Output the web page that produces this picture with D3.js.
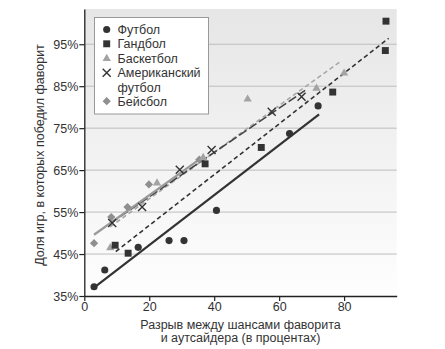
<!DOCTYPE html>
<html><head><meta charset="utf-8">
<script src="https://cdn.jsdelivr.net/npm/d3@7"></script>
<style>body{margin:0;background:#fff;}text{font-family:"Liberation Sans",Arial,sans-serif;}</style>
</head><body><svg id="c" width="445" height="349"></svg>
<script>
// Data
const yTicks = [35,45,55,65,75,85,95];
const xTicks = [0,20,40,60,80];
const footballX = [3.0,6.3,16.6,26.1,30.7,40.7,63.2,72.0];
const footballY = [37.2,41.2,46.6,48.2,48.2,55.4,73.7,80.3];
const handballX = [9.5,13.5,37.2,54.5,76.5,92.7,92.9];
const handballY = [47.1,45.2,66.5,70.4,83.6,93.5,100.5];
const basketballX = [8.0,22.4,36.6,50.3,71.5,80.0];
const basketballY = [46.5,61.9,68.0,81.9,84.5,88.1];
const amfootballX = [8.6,17.8,29.4,39.2,57.7,66.9];
const amfootballY = [52.4,56.2,65.1,69.8,78.9,82.5];
const baseballX = [3.0,8.3,13.3,19.9,35.4];
const baseballY = [47.6,53.8,56.2,61.6,67.5];
// trend line endpoints [x0,y0,x1,y1]
const footballTrend = [3.0,37.0,72.3,78.3];
const handballTrend = [9.7,45.6,93.7,96.4];
const basketballTrend = [8.0,51.5,78.9,90.9];
const amfootballTrend = [8.0,52.3,68.0,84.0];
const baseballTrend = [3.0,49.6,36.1,67.9];
const legendLabels = ["Футбол","Гандбол","Баскетбол","Американский","футбол","Бейсбол"];

const svg = d3.select("#c");
const x = d3.scaleLinear().domain([0,96.2]).range([84.3,396.7]);
const y = d3.scaleLinear().domain([35,103.4]).range([296,9]);

const defs = svg.append("defs");
const g = defs.append("linearGradient").attr("id","bg").attr("x1",0).attr("y1",0).attr("x2",0).attr("y2",1);
g.append("stop").attr("offset","0%").attr("stop-color","#e6e6e6");
g.append("stop").attr("offset","100%").attr("stop-color","#fefefe");
svg.append("rect").attr("x",x(0)).attr("y",y(103.4)).attr("width",x(96.2)-x(0)).attr("height",y(35)-y(103.4)).attr("fill","url(#bg)");

// gridlines
svg.append("g").selectAll("line").data(yTicks.slice(1)).join("line")
  .attr("x1",x(0)).attr("x2",x(96.2)).attr("y1",d=>y(d)).attr("y2",d=>y(d))
  .attr("stroke","#bdbdbd").attr("stroke-width",1);

// axes
const xa = svg.append("g").attr("transform",`translate(0,${y(35)})`)
  .call(d3.axisBottom(x).tickValues(xTicks).tickSize(5).tickSizeOuter(0));
const ya = svg.append("g").attr("transform",`translate(${x(0)},0)`)
  .call(d3.axisLeft(y).tickValues(yTicks).tickFormat(d=>d+"%").tickSize(5).tickSizeOuter(0));
[xa,ya].forEach(a=>{
  a.select(".domain").attr("stroke","#222").attr("stroke-width",1.3);
  a.selectAll(".tick line").attr("stroke","#222").attr("stroke-width",1.2);
  a.selectAll("text").attr("fill","#333").attr("font-size",12.5).attr("font-family","Liberation Sans, Arial, sans-serif");
});
xa.selectAll("text").attr("dy","0.75em").attr("y",6);
ya.selectAll("text").attr("x",-6);

// trend lines
function trend(t,color,w,dash){
  svg.append("line").attr("x1",x(t[0])).attr("y1",y(t[1])).attr("x2",x(t[2])).attr("y2",y(t[3]))
    .attr("stroke",color).attr("stroke-width",w).attr("stroke-dasharray",dash||null);
}
trend(footballTrend,"#333",2.2);
trend(handballTrend,"#333",1.6,"4.5,3");
trend(basketballTrend,"#a8a8a8",1.6,"4.5,3");
trend(amfootballTrend,"#444",1.6,"9,3");
trend(baseballTrend,"#999",2.2);

function zipXY(xs,ys){return xs.map((v,i)=>[v,ys[i]]);}
const sym = {
  circle: d3.symbol().type(d3.symbolCircle).size(40),
  square: d3.symbol().type(d3.symbolSquare).size(48),
  triangle: d3.symbol().type(d3.symbolTriangle).size(30),
  diamond: d3.symbol().type(d3.symbolSquare).size(34)
};
function pts(data,shape,color){
  svg.append("g").selectAll("path").data(data).join("path")
    .attr("d",sym[shape]).attr("fill",color)
    .attr("transform",d=>`translate(${x(d[0])},${y(d[1])})${shape==="diamond"?" rotate(45)":""}`);
}
function crosses(data){
  svg.append("g").selectAll("path").data(data).join("path")
    .attr("d","M-4,-4L4,4M-4,4L4,-4").attr("stroke","#333").attr("stroke-width",1.4).attr("fill","none")
    .attr("transform",d=>`translate(${x(d[0])},${y(d[1])})`);
}
pts(zipXY(baseballX,baseballY),"diamond","#8f8f8f");
pts(zipXY(basketballX,basketballY),"triangle","#a3a3a3");
crosses(zipXY(amfootballX,amfootballY));
pts(zipXY(handballX,handballY),"square","#333");
pts(zipXY(footballX,footballY),"circle","#333");

// legend
const lg = svg.append("g");
lg.append("rect").attr("x",94.5).attr("y",17.5).attr("width",114).attr("height",96.5)
  .attr("fill","#fff").attr("stroke","#999").attr("stroke-width",1);
const rowY = [29.5,43.8,58.6,72.8,87.6,101.2];
const mx = 106.7;
lg.append("path").attr("d",sym.circle).attr("fill","#333").attr("transform",`translate(${mx},${rowY[0]})`);
lg.append("path").attr("d",sym.square).attr("fill","#333").attr("transform",`translate(${mx},${rowY[1]})`);
lg.append("path").attr("d",sym.triangle).attr("fill","#a3a3a3").attr("transform",`translate(${mx},${rowY[2]})`);
lg.append("path").attr("d","M-4,-4L4,4M-4,4L4,-4").attr("stroke","#333").attr("stroke-width",1.4).attr("transform",`translate(${mx},${rowY[3]})`);
lg.append("path").attr("d",sym.diamond).attr("fill","#8f8f8f").attr("transform",`translate(${mx},${rowY[5]}) rotate(45)`);
lg.selectAll("text").data(legendLabels).join("text")
  .attr("x",117.5).attr("y",(d,i)=>rowY[i]).attr("dy","0.35em")
  .attr("font-size",12.5).attr("fill","#333").text(d=>d);

// axis titles
svg.append("text").attr("transform","translate(44,155) rotate(-90)").attr("text-anchor","middle")
  .attr("font-size",12.5).attr("fill","#333").text("Доля игр, в которых победил фаворит");
svg.append("text").attr("x",240.5).attr("y",328.5).attr("text-anchor","middle")
  .attr("font-size",12.5).attr("fill","#333").text("Разрыв между шансами фаворита");
svg.append("text").attr("x",240.5).attr("y",341.5).attr("text-anchor","middle")
  .attr("font-size",12.5).attr("fill","#333").text("и аутсайдера (в процентах)");
</script></body></html>
